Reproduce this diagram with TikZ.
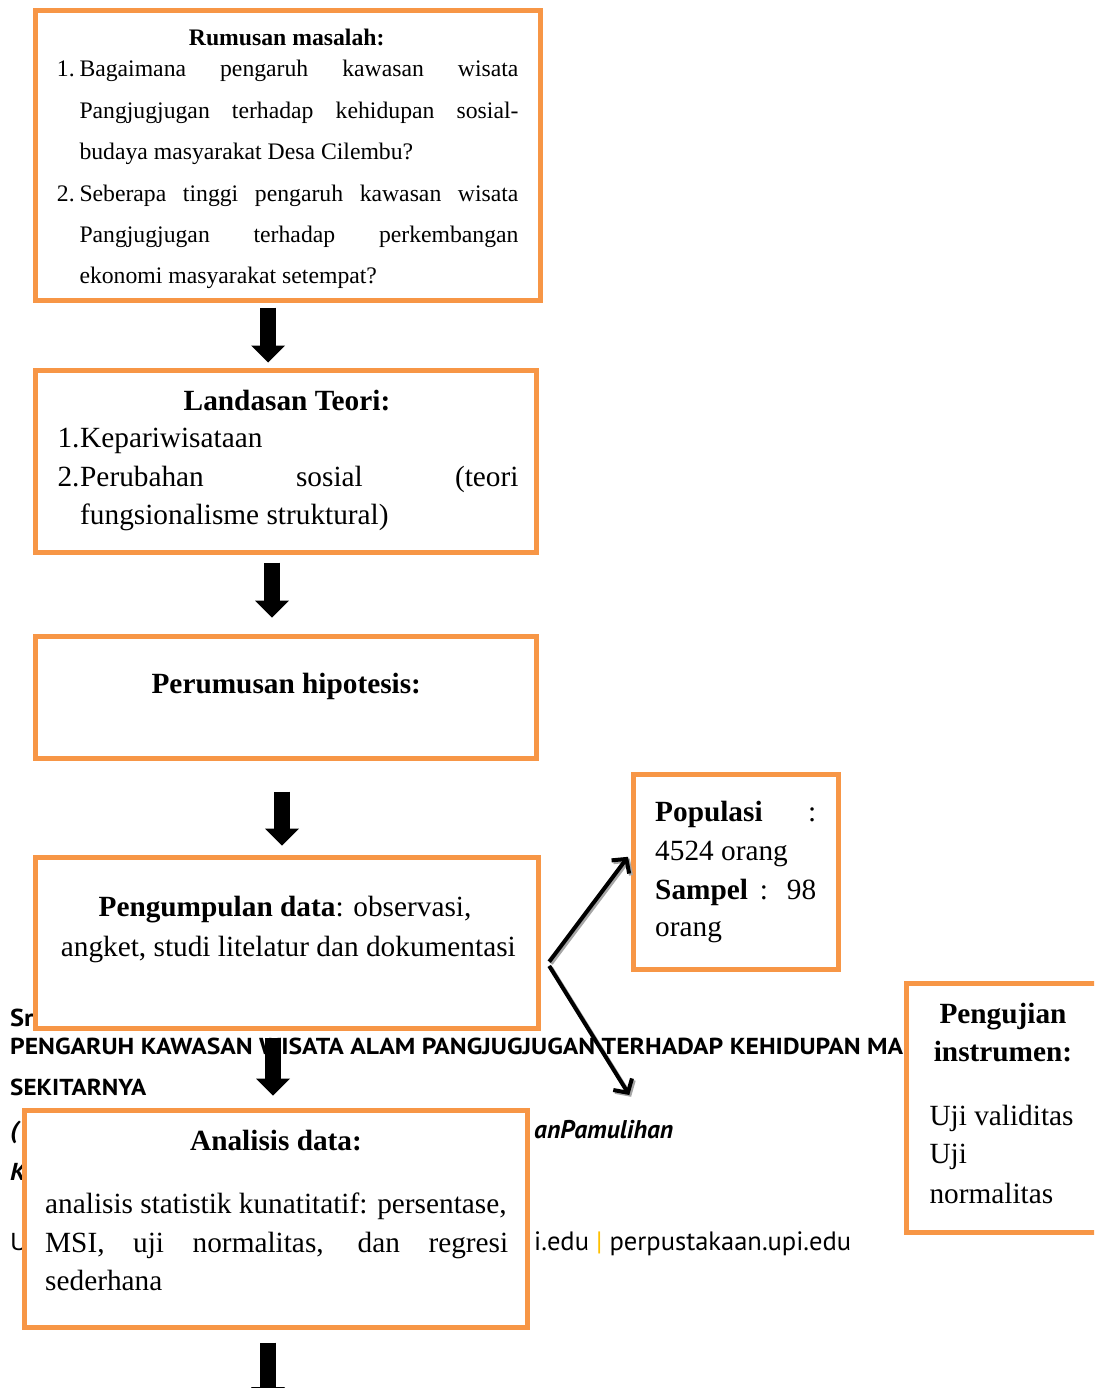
\documentclass[tikz,border=0pt]{standalone}
\usepackage{fontspec}
\usepackage{graphicx}
\setmainfont{Liberation Serif}
\newfontfamily\footsans{PT Sans}
\usetikzlibrary{arrows.meta,calc}
\definecolor{boxorange}{HTML}{F79646}
\definecolor{footyellow}{HTML}{FFC000}
\newcommand\wideft[1]{\scalebox{1.08}[1]{#1}}
\tikzset{
  box/.style={draw=boxorange, line width=5pt, fill=white, inner sep=0pt},
  bodytxt/.style={inner sep=0pt, font=\fontsize{29.3}{35}\selectfont},
  smalltxt/.style={inner sep=0pt, font=\fontsize{23.7}{28}\selectfont},
  lw/.style={anchor=base west},
  lc/.style={anchor=base},
  foot/.style={inner sep=0pt, anchor=base west, font=\footsans\fontsize{24.5}{24.5}\selectfont},
  blockarrow/.style={line width=16pt, -{Triangle[length=17pt,width=34pt,line width=0pt]}},
  thinarrow/.style={line width=4pt, -{Straight Barb[length=10pt,width=22pt]}},
  shadowarrow/.style={thinarrow, draw=black!35, transform canvas={xshift=1.8pt,yshift=-1.8pt}},
}
\begin{document}
\begin{tikzpicture}[x=1pt,y=-1pt]
\useasboundingbox (0,0) rectangle (1094,1388);
\clip (0,0) rectangle (1094,1388);
\fill[white] (0,0) rectangle (1094,1388);

% page footer (partly hidden behind boxes)
\node[foot] (f1) at (10,1026.7) {\wideft{\bfseries Sr}};
\node[foot] (f2) at (10,1054) {\resizebox{893pt}{16.5pt}{\bfseries PENGARUH KAWASAN WISATA ALAM PANGJUGJUGAN TERHADAP KEHIDUPAN MA}};
\node[foot] (f3) at (10,1095) {\resizebox{136pt}{16.5pt}{\bfseries SEKITARNYA}};
\node[foot] (f4) at (10,1138) {\wideft{\bfseries\itshape (}};
\node[foot] (f5) at (534,1138) {\resizebox{139pt}{!}{\bfseries\itshape anPamulihan}};
\node[foot] (f6) at (10,1180) {\wideft{\bfseries\itshape K}};
\node[foot] (f7) at (10,1250) {\wideft{U}};
\node[foot] (f8) at (534,1250) {\resizebox{317pt}{!}{i.edu \textcolor{footyellow}{|} perpustakaan.upi.edu}};

% boxes
\node[box, minimum width=505.3pt, minimum height=289.2pt] (rumusan) at (288.15,155.4) {};
\node[box, minimum width=501.4pt, minimum height=181.7pt] (landasan) at (286,461.65) {};
\node[box, minimum width=501.4pt, minimum height=121.6pt] (hipotesis) at (286,697.5) {};
\node[box, minimum width=503pt, minimum height=171.8pt] (kumpul) at (286.8,942.9) {};
\node[box, minimum width=205.8pt, minimum height=195.2pt] (populasi) at (735.9,872.1) {};
\node[box, minimum width=203.7pt, minimum height=248.7pt] (uji) at (1008.15,1108.15) {};
\node[box, minimum width=503pt, minimum height=217pt] (analisis) at (276,1218.5) {};

% Rumusan masalah
\node[smalltxt, lc] (r0) at (286.7,45.7) {\bfseries Rumusan masalah:};
\node[smalltxt, lw] (r1n) at (56.7,76.7) {1.};
\node[smalltxt, lw] (r1) at (79.3,76.7) {\makebox[439pt][s]{Bagaimana pengaruh kawasan wisata}};
\node[smalltxt, lw] (r2) at (79.3,118.3) {\makebox[439pt][s]{Pangjugjugan terhadap kehidupan sosial-}};
\node[smalltxt, lw] (r3) at (79.3,160) {budaya masyarakat Desa Cilembu?};
\node[smalltxt, lw] (r4n) at (56.7,201.3) {2.};
\node[smalltxt, lw] (r4) at (79.3,201.3) {\makebox[439pt][s]{Seberapa tinggi pengaruh kawasan wisata}};
\node[smalltxt, lw] (r5) at (79.3,242.7) {\makebox[439pt][s]{Pangjugjugan terhadap perkembangan}};
\node[smalltxt, lw] (r6) at (79.3,283.3) {ekonomi masyarakat setempat?};

% Landasan Teori
\node[bodytxt, lc] (l0) at (287,410) {\bfseries Landasan Teori:};
\node[bodytxt, lw] (l1n) at (57.3,447.7) {1.};
\node[bodytxt, lw] (l1) at (80,447.7) {Kepariwisataan};
\node[bodytxt, lw] (l2n) at (57.3,486.7) {2.};
\node[bodytxt, lw] (l2) at (80,486.7) {\makebox[438.3pt][s]{Perubahan sosial (teori}};
\node[bodytxt, lw] (l3) at (80,524.3) {fungsionalisme struktural)};

% Perumusan hipotesis
\node[bodytxt, lc] (h0) at (286.3,693.3) {\bfseries Perumusan hipotesis:};

% Pengumpulan data
\node[bodytxt, lc] (k1) at (285,916.7) {\textbf{Pengumpulan data}: observasi,};
\node[bodytxt, lc] (k2) at (288.3,956.7) {angket, studi litelatur dan dokumentasi};

% Populasi
\node[bodytxt, lw] (p1) at (655,821.7) {\makebox[161pt][s]{\textbf{Populasi} :}};
\node[bodytxt, lw] (p2) at (655,860.7) {4524 orang};
\node[bodytxt, lw] (p3) at (655,899.3) {\makebox[161pt][s]{\textbf{Sampel} : 98}};
\node[bodytxt, lw] (p4) at (655,936.7) {orang};

% Pengujian instrumen
\node[bodytxt, lc] (u0) at (1003,1023.3) {\bfseries Pengujian};
\node[bodytxt, lc] (u1) at (1003,1061) {\bfseries instrumen:};
\node[bodytxt, lw] (u2) at (929.3,1125) {Uji validitas};
\node[bodytxt, lw] (u3) at (929.3,1163.3) {Uji};
\node[bodytxt, lw] (u4) at (929.3,1203.3) {normalitas};

% Analisis data
\node[bodytxt, lc] (a0) at (276,1150) {\bfseries Analisis data:};
\node[bodytxt, lw] (a1) at (45,1213) {analisis statistik kunatitatif: persentase,};
\node[bodytxt, lw] (a2) at (45,1252) {\makebox[463pt][s]{MSI, uji normalitas, dan regresi}};
\node[bodytxt, lw] (a3) at (45,1290) {sederhana};

% block arrows
\coordinate (x1) at (268,0);
\coordinate (x2) at (272,0);
\coordinate (x3) at (282,0);
\coordinate (x4) at (273,0);
\coordinate (x5) at (268,0);
\coordinate (endarrow) at (268,1404);
\draw[blockarrow, shorten <=5pt, shorten >=5.8pt] (rumusan.south -| x1) -- (landasan.north -| x1);
\draw[blockarrow, shorten <=7.5pt, shorten >=16.7pt] (landasan.south -| x2) -- (hipotesis.north -| x2);
\draw[blockarrow, shorten <=30.7pt, shorten >=9pt] (hipotesis.south -| x3) -- (kumpul.north -| x3);
\draw[blockarrow, shorten <=6.2pt, shorten >=12pt] (kumpul.south -| x4) -- (analisis.north -| x4);
\draw[blockarrow, shorten <=13pt] (analisis.south -| x5) -- (endarrow);

% diagonal arrows
\coordinate (fork1) at ([xshift=8.4pt,yshift=-18.8pt]kumpul.east);
\coordinate (fork2) at ([xshift=8.4pt,yshift=-23pt]kumpul.east);
\coordinate (free) at (629.3,1095);
\draw[shadowarrow] (fork1) -- ([yshift=15.3pt,xshift=-2.5pt]populasi.west);
\draw[shadowarrow] (fork2) -- (free);
\draw[thinarrow] (fork1) -- ([yshift=15.3pt,xshift=-2.5pt]populasi.west);
\draw[thinarrow] (fork2) -- (free);
\end{tikzpicture}
\end{document}
